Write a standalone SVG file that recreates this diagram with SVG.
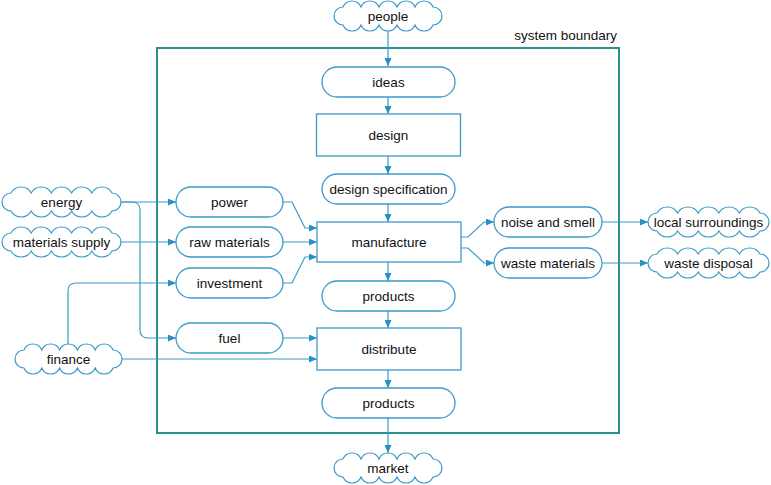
<svg xmlns="http://www.w3.org/2000/svg" width="771" height="485" viewBox="0 0 771 485">
<style>
  .shape{fill:#fff;stroke:#3a9bc9;stroke-width:1.3}
  .cloud{fill:#fff;stroke:#3a9bc9;stroke-width:1.2}
  .boundary{fill:none;stroke:#2a9090;stroke-width:2}
  .conn path{fill:none;stroke:#3a9bc9;stroke-width:1.2;marker-end:url(#arr)}
  text{font-family:"Liberation Sans",Arial,sans-serif;font-size:13.5px;fill:#111;text-anchor:middle}
</style>
<defs>
  <marker id="arr" markerUnits="userSpaceOnUse" markerWidth="8" markerHeight="7" refX="8" refY="3.5" orient="auto">
    <path d="M0,0 L8,3.5 L0,7 z" fill="#2a8fc4"/>
  </marker>
</defs>
<rect width="771" height="485" fill="#fff"/>

<g id="system-boundary">
  <rect class="boundary" x="157" y="48" width="462" height="385"/>
  <text x="617" y="40" style="text-anchor:end">system boundary</text>
</g>

<g class="conn" id="connectors">
  <path d="M388,31 V66"/>
  <path d="M388,97 V114"/>
  <path d="M388,156 V174"/>
  <path d="M388,204 V222"/>
  <path d="M388,262 V281"/>
  <path d="M388,311 V328"/>
  <path d="M388,370 V388"/>
  <path d="M388,418 V453"/>
  <path d="M121,202 H176"/>
  <path d="M121,202 H132 Q140,202 140,210 V330 Q140,338 148,338 H176"/>
  <path d="M121,242 H176"/>
  <path d="M68,345 V291 Q68,283 76,283 H176"/>
  <path d="M122,359 H317"/>
  <path d="M283,338 H317"/>
  <path d="M283,202 H292 L305,228 H317"/>
  <path d="M283,242 H317"/>
  <path d="M283,283 H292 L305,257 H317"/>
  <path d="M461,237 H468 L484,222 H494"/>
  <path d="M461,248 H468 L484,263 H494"/>
  <path d="M602,222 H648"/>
  <path d="M602,263 H648"/>
</g>

<g id="people">
  <path class="cloud" d="M343,25 a9,9 0 0 1 0,-18 a9.75,9.75 0 0 1 18,0 a9.75,9.75 0 0 1 18,0 a9.75,9.75 0 0 1 18,0 a9.75,9.75 0 0 1 18,0 a9.75,9.75 0 0 1 18,0 a9,9 0 0 1 0,18 a9.75,9.75 0 0 1 -18,0 a9.75,9.75 0 0 1 -18,0 a9.75,9.75 0 0 1 -18,0 a9.75,9.75 0 0 1 -18,0 a9.75,9.75 0 0 1 -18,0 z"/>
  <text x="388" y="16" dy=".35em">people</text>
</g>

<g id="ideas">
  <rect class="shape" x="322" y="67" width="133" height="30" rx="15"/>
  <text x="388.5" y="82" dy=".35em">ideas</text>
</g>

<g id="design">
  <rect class="shape" x="316.5" y="114" width="144" height="42"/>
  <text x="388.5" y="135" dy=".35em">design</text>
</g>

<g id="design-specification">
  <rect class="shape" x="322" y="174" width="133" height="30" rx="15"/>
  <text x="388.5" y="189" dy=".35em">design specification</text>
</g>

<g id="manufacture">
  <rect class="shape" x="317" y="222" width="144" height="40"/>
  <text x="389" y="242" dy=".35em">manufacture</text>
</g>

<g id="products-1">
  <rect class="shape" x="322" y="281" width="133" height="30" rx="15"/>
  <text x="388.5" y="296" dy=".35em">products</text>
</g>

<g id="distribute">
  <rect class="shape" x="317" y="328" width="144" height="42"/>
  <text x="389" y="349" dy=".35em">distribute</text>
</g>

<g id="products-2">
  <rect class="shape" x="322" y="388" width="133" height="30" rx="15"/>
  <text x="388.5" y="403" dy=".35em">products</text>
</g>

<g id="market">
  <path class="cloud" d="M343,477 a9,9 0 0 1 0,-18 a9.75,9.75 0 0 1 18,0 a9.75,9.75 0 0 1 18,0 a9.75,9.75 0 0 1 18,0 a9.75,9.75 0 0 1 18,0 a9.75,9.75 0 0 1 18,0 a9,9 0 0 1 0,18 a9.75,9.75 0 0 1 -18,0 a9.75,9.75 0 0 1 -18,0 a9.75,9.75 0 0 1 -18,0 a9.75,9.75 0 0 1 -18,0 a9.75,9.75 0 0 1 -18,0 z"/>
  <text x="388" y="468" dy=".35em">market</text>
</g>

<g id="energy">
  <path class="cloud" d="M11,211 a9,9 0 0 1 0,-18 a11.5,11.5 0 0 1 20.2,0 a11.5,11.5 0 0 1 20.2,0 a11.5,11.5 0 0 1 20.2,0 a11.5,11.5 0 0 1 20.2,0 a11.5,11.5 0 0 1 20.2,0 a9,9 0 0 1 0,18 a11.5,11.5 0 0 1 -20.2,0 a11.5,11.5 0 0 1 -20.2,0 a11.5,11.5 0 0 1 -20.2,0 a11.5,11.5 0 0 1 -20.2,0 a11.5,11.5 0 0 1 -20.2,0 z"/>
  <text x="61.5" y="202" dy=".35em">energy</text>
</g>

<g id="materials-supply">
  <path class="cloud" d="M11,251 a9,9 0 0 1 0,-18 a11.5,11.5 0 0 1 20.2,0 a11.5,11.5 0 0 1 20.2,0 a11.5,11.5 0 0 1 20.2,0 a11.5,11.5 0 0 1 20.2,0 a11.5,11.5 0 0 1 20.2,0 a9,9 0 0 1 0,18 a11.5,11.5 0 0 1 -20.2,0 a11.5,11.5 0 0 1 -20.2,0 a11.5,11.5 0 0 1 -20.2,0 a11.5,11.5 0 0 1 -20.2,0 a11.5,11.5 0 0 1 -20.2,0 z"/>
  <text x="61.5" y="242" dy=".35em">materials supply</text>
</g>

<g id="finance">
  <path class="cloud" d="M24,368 a9,9 0 0 1 0,-18 a9.6,9.6 0 0 1 17.8,0 a9.6,9.6 0 0 1 17.8,0 a9.6,9.6 0 0 1 17.8,0 a9.6,9.6 0 0 1 17.8,0 a9.6,9.6 0 0 1 17.8,0 a9,9 0 0 1 0,18 a9.6,9.6 0 0 1 -17.8,0 a9.6,9.6 0 0 1 -17.8,0 a9.6,9.6 0 0 1 -17.8,0 a9.6,9.6 0 0 1 -17.8,0 a9.6,9.6 0 0 1 -17.8,0 z"/>
  <text x="68.5" y="359" dy=".35em">finance</text>
</g>

<g id="power">
  <rect class="shape" x="176" y="187" width="107" height="30" rx="15"/>
  <text x="229.5" y="202" dy=".35em">power</text>
</g>

<g id="raw-materials">
  <rect class="shape" x="176" y="227" width="107" height="30" rx="15"/>
  <text x="229.5" y="242" dy=".35em">raw materials</text>
</g>

<g id="investment">
  <rect class="shape" x="176" y="268" width="107" height="30" rx="15"/>
  <text x="229.5" y="283" dy=".35em">investment</text>
</g>

<g id="fuel">
  <rect class="shape" x="176" y="323" width="107" height="30" rx="15"/>
  <text x="229.5" y="338" dy=".35em">fuel</text>
</g>

<g id="noise-and-smell">
  <rect class="shape" x="494" y="207" width="108" height="30" rx="15"/>
  <text x="548" y="222" dy=".35em">noise and smell</text>
</g>

<g id="waste-materials">
  <rect class="shape" x="494" y="248" width="108" height="30" rx="15"/>
  <text x="548" y="263" dy=".35em">waste materials</text>
</g>

<g id="local-surroundings">
  <path class="cloud" d="M657,231 a9,9 0 0 1 0,-18 a11.84,11.84 0 0 1 20.6,0 a11.84,11.84 0 0 1 20.6,0 a11.84,11.84 0 0 1 20.6,0 a11.84,11.84 0 0 1 20.6,0 a11.84,11.84 0 0 1 20.6,0 a9,9 0 0 1 0,18 a11.84,11.84 0 0 1 -20.6,0 a11.84,11.84 0 0 1 -20.6,0 a11.84,11.84 0 0 1 -20.6,0 a11.84,11.84 0 0 1 -20.6,0 a11.84,11.84 0 0 1 -20.6,0 z"/>
  <text x="708.5" y="222" dy=".35em">local surroundings</text>
</g>

<g id="waste-disposal">
  <path class="cloud" d="M657,272 a9,9 0 0 1 0,-18 a11.84,11.84 0 0 1 20.6,0 a11.84,11.84 0 0 1 20.6,0 a11.84,11.84 0 0 1 20.6,0 a11.84,11.84 0 0 1 20.6,0 a11.84,11.84 0 0 1 20.6,0 a9,9 0 0 1 0,18 a11.84,11.84 0 0 1 -20.6,0 a11.84,11.84 0 0 1 -20.6,0 a11.84,11.84 0 0 1 -20.6,0 a11.84,11.84 0 0 1 -20.6,0 a11.84,11.84 0 0 1 -20.6,0 z"/>
  <text x="708.5" y="263" dy=".35em">waste disposal</text>
</g>
</svg>
